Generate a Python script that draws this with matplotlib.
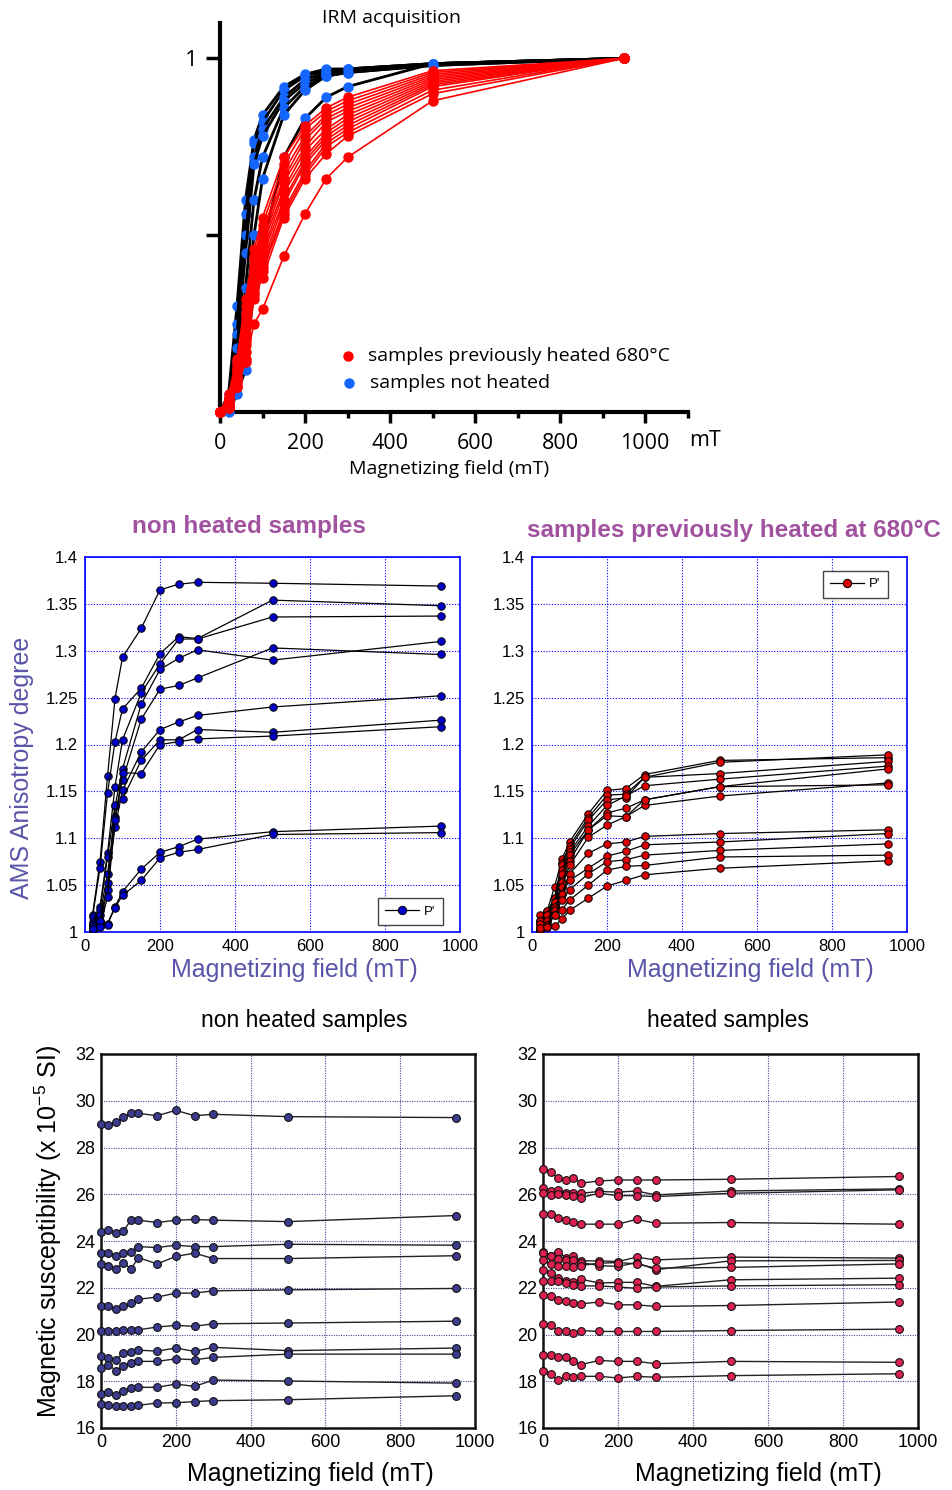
import matplotlib
matplotlib.use("Agg")
import matplotlib.pyplot as plt
from matplotlib.lines import Line2D

plt.rcParams['mathtext.fontset'] = 'custom'
plt.rcParams['mathtext.rm'] = 'Liberation Sans'
plt.rcParams['mathtext.it'] = 'Liberation Sans:italic'

# ---------------- DATA ----------------
irm_fields = [0, 20, 40, 60, 80, 100, 150, 200, 250, 300, 500, 950]
irm_not_heated = [
    [0, 0.05, 0.30, 0.60, 0.77, 0.84, 0.92, 0.955, 0.97, 0.97, 0.985, 1.0],
    [0, 0.04, 0.25, 0.56, 0.76, 0.82, 0.91, 0.95, 0.965, 0.97, 0.985, 1.0],
    [0, 0.03, 0.22, 0.50, 0.72, 0.80, 0.89, 0.94, 0.96, 0.97, 0.985, 1.0],
    [0, 0.03, 0.18, 0.45, 0.70, 0.78, 0.88, 0.93, 0.955, 0.965, 0.985, 1.0],
    [0, 0.02, 0.14, 0.35, 0.60, 0.72, 0.86, 0.92, 0.95, 0.96, 0.98, 1.0],
    [0, 0.01, 0.10, 0.28, 0.50, 0.66, 0.84, 0.91, 0.95, 0.96, 0.98, 1.0],
    [0, 0.00, 0.05, 0.12, 0.35, 0.47, 0.72, 0.83, 0.89, 0.92, 0.985, 1.0],
]
irm_heated = [
    [0, 0.05, 0.15, 0.32, 0.46, 0.55, 0.72, 0.81, 0.86, 0.89, 0.965, 1],
    [0, 0.04, 0.14, 0.30, 0.44, 0.53, 0.70, 0.80, 0.85, 0.88, 0.96, 1],
    [0, 0.04, 0.13, 0.28, 0.43, 0.51, 0.68, 0.78, 0.84, 0.87, 0.955, 1],
    [0, 0.03, 0.12, 0.27, 0.41, 0.50, 0.66, 0.77, 0.83, 0.86, 0.95, 1],
    [0, 0.03, 0.12, 0.25, 0.40, 0.48, 0.65, 0.75, 0.82, 0.85, 0.945, 1],
    [0, 0.03, 0.11, 0.24, 0.38, 0.47, 0.63, 0.74, 0.80, 0.84, 0.94, 1],
    [0, 0.02, 0.10, 0.22, 0.37, 0.45, 0.62, 0.72, 0.79, 0.83, 0.935, 1],
    [0, 0.02, 0.10, 0.21, 0.36, 0.44, 0.60, 0.71, 0.78, 0.82, 0.93, 1],
    [0, 0.02, 0.09, 0.20, 0.35, 0.42, 0.59, 0.70, 0.77, 0.81, 0.925, 1],
    [0, 0.02, 0.09, 0.19, 0.34, 0.41, 0.57, 0.68, 0.76, 0.80, 0.92, 1],
    [0, 0.01, 0.08, 0.17, 0.33, 0.40, 0.56, 0.67, 0.75, 0.79, 0.91, 1],
    [0, 0.01, 0.07, 0.15, 0.32, 0.38, 0.55, 0.66, 0.73, 0.78, 0.90, 1],
    [0, 0.01, 0.07, 0.14, 0.25, 0.29, 0.44, 0.56, 0.66, 0.72, 0.88, 1],
]

ams_fields = [20, 40, 60, 80, 100, 150, 200, 250, 300, 500, 950]
ams_non_heated = [
    [1.018, 1.075, 1.166, 1.249, 1.293, 1.324, 1.365, 1.371, 1.373, 1.372, 1.369],
    [1.016, 1.068, 1.148, 1.203, 1.238, 1.260, 1.297, 1.315, 1.313, 1.354, 1.348],
    [1.011, 1.027, 1.084, 1.155, 1.205, 1.255, 1.286, 1.3125, 1.3125, 1.336, 1.337],
    [1.009, 1.023, 1.080, 1.134, 1.174, 1.243, 1.280, 1.292, 1.301, 1.290, 1.310],
    [1.005, 1.018, 1.062, 1.123, 1.162, 1.227, 1.259, 1.263, 1.271, 1.303, 1.296],
    [1.004, 1.012, 1.052, 1.112, 1.151, 1.192, 1.216, 1.224, 1.231, 1.240, 1.252],
    [1.007, 1.009, 1.045, 1.135, 1.142, 1.183, 1.205, 1.205, 1.216, 1.213, 1.226],
    [1.002, 1.006, 1.037, 1.119, 1.170, 1.169, 1.200, 1.203, 1.206, 1.209, 1.219],
    [1.005, 1.012, 1.009, 1.027, 1.043, 1.067, 1.085, 1.091, 1.099, 1.107, 1.113],
    [1.003, 1.005, 1.008, 1.026, 1.039, 1.055, 1.079, 1.085, 1.088, 1.104, 1.106],
]
ams_heated = [
    [1.018, 1.022, 1.048, 1.078, 1.096, 1.126, 1.151, 1.153, 1.168, 1.183, 1.186],
    [1.012, 1.022, 1.036, 1.074, 1.092, 1.122, 1.146, 1.147, 1.165, 1.181, 1.189],
    [1.012, 1.018, 1.036, 1.071, 1.089, 1.119, 1.141, 1.143, 1.165, 1.169, 1.182],
    [1.009, 1.018, 1.032, 1.066, 1.085, 1.113, 1.135, 1.145, 1.156, 1.163, 1.177],
    [1.009, 1.012, 1.027, 1.062, 1.082, 1.109, 1.127, 1.132, 1.141, 1.155, 1.174],
    [1.004, 1.012, 1.023, 1.053, 1.076, 1.109, 1.124, 1.123, 1.135, 1.145, 1.159],
    [1.012, 1.018, 1.032, 1.048, 1.071, 1.101, 1.114, 1.123, 1.141, 1.155, 1.157],
    [1.004, 1.012, 1.027, 1.041, 1.062, 1.084, 1.094, 1.096, 1.102, 1.105, 1.109],
    [1.002, 1.007, 1.023, 1.041, 1.055, 1.068, 1.081, 1.086, 1.093, 1.096, 1.105],
    [1.009, 1.007, 1.018, 1.034, 1.045, 1.062, 1.075, 1.077, 1.082, 1.087, 1.094],
    [1.002, 1.005, 1.018, 1.024, 1.034, 1.050, 1.066, 1.070, 1.071, 1.080, 1.082],
    [1.004, 1.005, 1.006, 1.014, 1.023, 1.036, 1.049, 1.055, 1.061, 1.068, 1.076],
]

sus_fields = [0, 20, 40, 60, 80, 100, 150, 200, 250, 300, 500, 950]
sus_non_heated = [
    [29.00, 28.96, 29.07, 29.29, 29.46, 29.46, 29.36, 29.59, 29.36, 29.42, 29.32, 29.28],
    [24.39, 24.48, 24.36, 24.43, 24.89, 24.89, 24.79, 24.89, 24.92, 24.89, 24.83, 25.09],
    [23.48, 23.48, 23.34, 23.48, 23.52, 23.76, 23.72, 23.82, 23.76, 23.76, 23.86, 23.82],
    [23.02, 22.94, 22.80, 23.08, 22.80, 23.29, 23.02, 23.34, 23.48, 23.25, 23.25, 23.37],
    [21.24, 21.20, 21.10, 21.20, 21.34, 21.51, 21.60, 21.77, 21.77, 21.87, 21.91, 21.97],
    [20.17, 20.17, 20.17, 20.20, 20.20, 20.20, 20.32, 20.39, 20.35, 20.46, 20.49, 20.57],
    [19.09, 18.99, 18.92, 19.21, 19.25, 19.33, 19.29, 19.42, 19.28, 19.45, 19.31, 19.42],
    [18.56, 18.71, 18.45, 18.64, 18.78, 18.85, 18.85, 18.96, 18.92, 19.02, 19.16, 19.16],
    [17.47, 17.52, 17.42, 17.57, 17.70, 17.74, 17.74, 17.88, 17.78, 18.05, 18.01, 17.92],
    [17.04, 16.97, 16.93, 16.93, 16.93, 16.97, 17.07, 17.08, 17.13, 17.17, 17.21, 17.38],
]
sus_heated = [
    [27.07, 26.97, 26.69, 26.61, 26.71, 26.47, 26.57, 26.61, 26.61, 26.61, 26.64, 26.76],
    [26.26, 26.16, 26.19, 26.07, 26.07, 26.04, 26.12, 26.09, 26.14, 25.97, 26.14, 26.23],
    [26.04, 25.97, 26.02, 25.97, 25.94, 25.86, 26.04, 25.94, 25.94, 25.90, 26.04, 26.19],
    [25.16, 25.16, 24.98, 24.88, 24.83, 24.72, 24.72, 24.72, 24.93, 24.76, 24.79, 24.72],
    [23.55, 23.36, 23.55, 23.29, 23.34, 23.15, 23.15, 23.12, 23.31, 23.19, 23.31, 23.27],
    [23.48, 23.34, 23.24, 23.19, 23.19, 23.08, 22.95, 22.91, 23.08, 22.77, 23.15, 23.17],
    [23.20, 23.02, 22.91, 22.91, 22.87, 22.95, 23.05, 23.08, 23.02, 22.84, 22.87, 23.02],
    [22.77, 22.63, 22.41, 22.27, 22.23, 22.37, 22.20, 22.23, 22.23, 22.06, 22.34, 22.41],
    [22.27, 22.27, 22.31, 22.20, 22.13, 22.08, 22.08, 22.03, 21.98, 22.03, 22.08, 22.13],
    [21.70, 21.63, 21.49, 21.44, 21.34, 21.31, 21.39, 21.27, 21.27, 21.20, 21.24, 21.39],
    [20.46, 20.39, 20.17, 20.17, 20.06, 20.17, 20.13, 20.13, 20.13, 20.13, 20.17, 20.23],
    [19.13, 19.13, 19.02, 19.02, 18.88, 18.71, 18.89, 18.85, 18.85, 18.75, 18.85, 18.81],
    [18.45, 18.31, 18.04, 18.24, 18.17, 18.21, 18.21, 18.14, 18.21, 18.17, 18.24, 18.32],
]

field_ticks = [0, 200, 400, 600, 800, 1000]
ams_ticks = [1, 1.05, 1.1, 1.15, 1.2, 1.25, 1.3, 1.35, 1.4]
ams_ticklabels = ['1', '1.05', '1.1', '1.15', '1.2', '1.25', '1.3', '1.35', '1.4']
sus_ticks = [16, 18, 20, 22, 24, 26, 28, 30, 32]

# ---------------- FIGURE ----------------
W, H = 952, 1490
fig = plt.figure(figsize=(W / 100, H / 100), dpi=100)


def rect(l, t, r, b):
    return [l / W, 1 - b / H, (r - l) / W, (b - t) / H]


def fx(x):
    return x / W


def fy(y):
    return 1 - y / H


MY = 'Open Sans'
AR = 'Liberation Sans'

# ---------- Top: IRM acquisition ----------
ax = fig.add_axes(rect(220, 23, 687.5, 412))
for c in irm_not_heated:
    ax.plot(irm_fields, c, color='black', lw=2.0, marker='o', ms=6.5,
            mfc='#1466ff', mec='#1466ff', clip_on=False, zorder=3)
for c in irm_heated:
    ax.plot(irm_fields, c, color='#ff0000', lw=1.2, marker='o', ms=6.5,
            mfc='#ff0000', mec='#ff0000', clip_on=False, zorder=4)
ax.set_xlim(0, 1100)
ax.set_ylim(0, 1.1)
for s in ['top', 'right']:
    ax.spines[s].set_visible(False)
for s in ['left', 'bottom']:
    ax.spines[s].set_linewidth(3)
ax.set_yticks([0.5, 1.0])
ax.set_yticklabels(['', '1'], fontfamily=MY, fontsize=16)
ax.set_xticks(field_ticks)
ax.set_xticklabels([str(v) for v in field_ticks], fontfamily=MY, fontsize=15.5)
ax.set_xticks([100, 300, 500, 700, 900, 1100], minor=True)
ax.tick_params(axis='y', direction='out', length=10, width=2.5, pad=6)
ax.tick_params(axis='x', which='major', direction='out', length=8, width=2.5, pad=7)
ax.tick_params(axis='x', which='minor', direction='out', length=4, width=2.5)
ax.set_facecolor('none')
fig.text(fx(705), fy(440), 'mT', fontfamily=MY, fontsize=15.5, ha='center', va='center')
fig.text(fx(392), fy(18), 'IRM acquisition', fontfamily=MY, fontsize=14, ha='center', va='center')
fig.text(fx(449), fy(469), 'Magnetizing field (mT)', fontfamily=MY, fontsize=14, ha='center', va='center')
fig.add_artist(Line2D([fx(348)], [fy(356)], marker='o', ms=6.5, color='#ff0000', ls='none'))
fig.add_artist(Line2D([fx(349)], [fy(383)], marker='o', ms=6.5, color='#1466ff', ls='none'))
fig.text(fx(368), fy(356), 'samples previously heated 680°C', fontfamily=MY, fontsize=14, ha='left', va='center')
fig.text(fx(370), fy(383), 'samples not heated', fontfamily=MY, fontsize=14, ha='left', va='center')

# ---------- Middle: AMS ----------
TITLE_C = '#a0529e'
LABEL_C = '#5a55a8'


def ams_axes(r, data, color, legend_loc, anchor):
    a = fig.add_axes(r)
    for c in data:
        a.plot(ams_fields, c, color='black', lw=0.9, marker='o', ms=5.4,
               mfc=color, mec='black', mew=0.7, zorder=3)
    a.set_xlim(0, 1000)
    a.set_ylim(1, 1.4)
    a.set_xticks(field_ticks)
    a.set_yticks(ams_ticks)
    a.set_xticklabels([str(v) for v in field_ticks], fontfamily=AR, fontsize=12)
    a.set_yticklabels(ams_ticklabels, fontfamily=AR, fontsize=12)
    a.tick_params(length=0, pad=5)
    a.grid(True, color='#0000ff', ls=(0, (1, 1.5)), lw=0.8)
    for s in a.spines.values():
        s.set_color('#0000ff')
        s.set_linewidth(1.2)
    h = Line2D([], [], color='black', lw=0.9, marker='o', ms=6, mfc=color, mec='black', mew=0.7)
    leg = a.legend([h], ["P'"], loc=legend_loc, bbox_to_anchor=anchor, frameon=True,
                   fancybox=False, edgecolor='#444444', framealpha=1, borderaxespad=0,
                   prop={'family': AR, 'size': 9.5}, handlelength=2.6, borderpad=0.55,
                   handletextpad=0.4)
    leg.get_frame().set_linewidth(1.0)
    return a


ams_axes(rect(85, 557, 460, 932), ams_non_heated, '#0000c8', 'lower right',
         ((443 - 85) / 375, (932 - 925) / 375))
ams_axes(rect(532, 557, 907, 932), ams_heated, '#dd0000', 'upper right',
         ((888 - 532) / 375, (932 - 571) / 375))

fig.text(fx(249), fy(527), 'non heated samples', fontfamily=AR, fontweight='bold',
         fontsize=17.5, color=TITLE_C, ha='center', va='center')
fig.text(fx(527), fy(531), 'samples previously heated at 680°C', fontfamily=AR, fontweight='bold',
         fontsize=17.5, color=TITLE_C, ha='left', va='center')
fig.text(fx(22), fy(768), 'AMS Anisotropy degree', fontfamily=AR, fontsize=18,
         color=LABEL_C, rotation=90, ha='center', va='center')
fig.text(fx(294), fy(970), 'Magnetizing field (mT)', fontfamily=AR, fontsize=18,
         color=LABEL_C, ha='center', va='center')
fig.text(fx(750), fy(970), 'Magnetizing field (mT)', fontfamily=AR, fontsize=18,
         color=LABEL_C, ha='center', va='center')

# ---------- Bottom: susceptibility ----------


def sus_axes(r, data, color):
    a = fig.add_axes(r)
    for c in data:
        a.plot(sus_fields, c, color='#222222', lw=1.0, marker='o', ms=5.6,
               mfc=color, mec='#111111', mew=0.8, zorder=3, clip_on=False)
    a.set_xlim(0, 1000)
    a.set_ylim(16, 32)
    a.set_xticks(field_ticks)
    a.set_yticks(sus_ticks)
    a.set_xticklabels([str(v) for v in field_ticks], fontfamily=AR, fontsize=13)
    a.set_yticklabels([str(v) for v in sus_ticks], fontfamily=AR, fontsize=13)
    a.tick_params(length=0, pad=4)
    a.grid(True, color='#4a4a9a', ls=(0, (1, 1.2)), lw=0.8)
    for s in a.spines.values():
        s.set_color('#111111')
        s.set_linewidth(1.8)
    return a


sus_axes(rect(101, 1054, 475, 1428), sus_non_heated, '#3c3c8e')
sus_axes(rect(543, 1054, 918, 1428), sus_heated, '#dc2050')

fig.text(fx(304), fy(1021), 'non heated samples', fontfamily=AR, fontsize=16.5,
         ha='center', va='center')
fig.text(fx(728), fy(1021), 'heated samples', fontfamily=AR, fontsize=16.5,
         ha='center', va='center')
fig.text(fx(48), fy(1232), 'Magnetic susceptibility (x 10$^{\\mathregular{-5}}$ SI)',
         fontfamily=AR, fontsize=18, rotation=90, ha='center', va='center')
fig.text(fx(310), fy(1474), 'Magnetizing field (mT)', fontfamily=AR, fontsize=18,
         ha='center', va='center')
fig.text(fx(758), fy(1474), 'Magnetizing field (mT)', fontfamily=AR, fontsize=18,
         ha='center', va='center')

fig.savefig('out.png', dpi=100)
